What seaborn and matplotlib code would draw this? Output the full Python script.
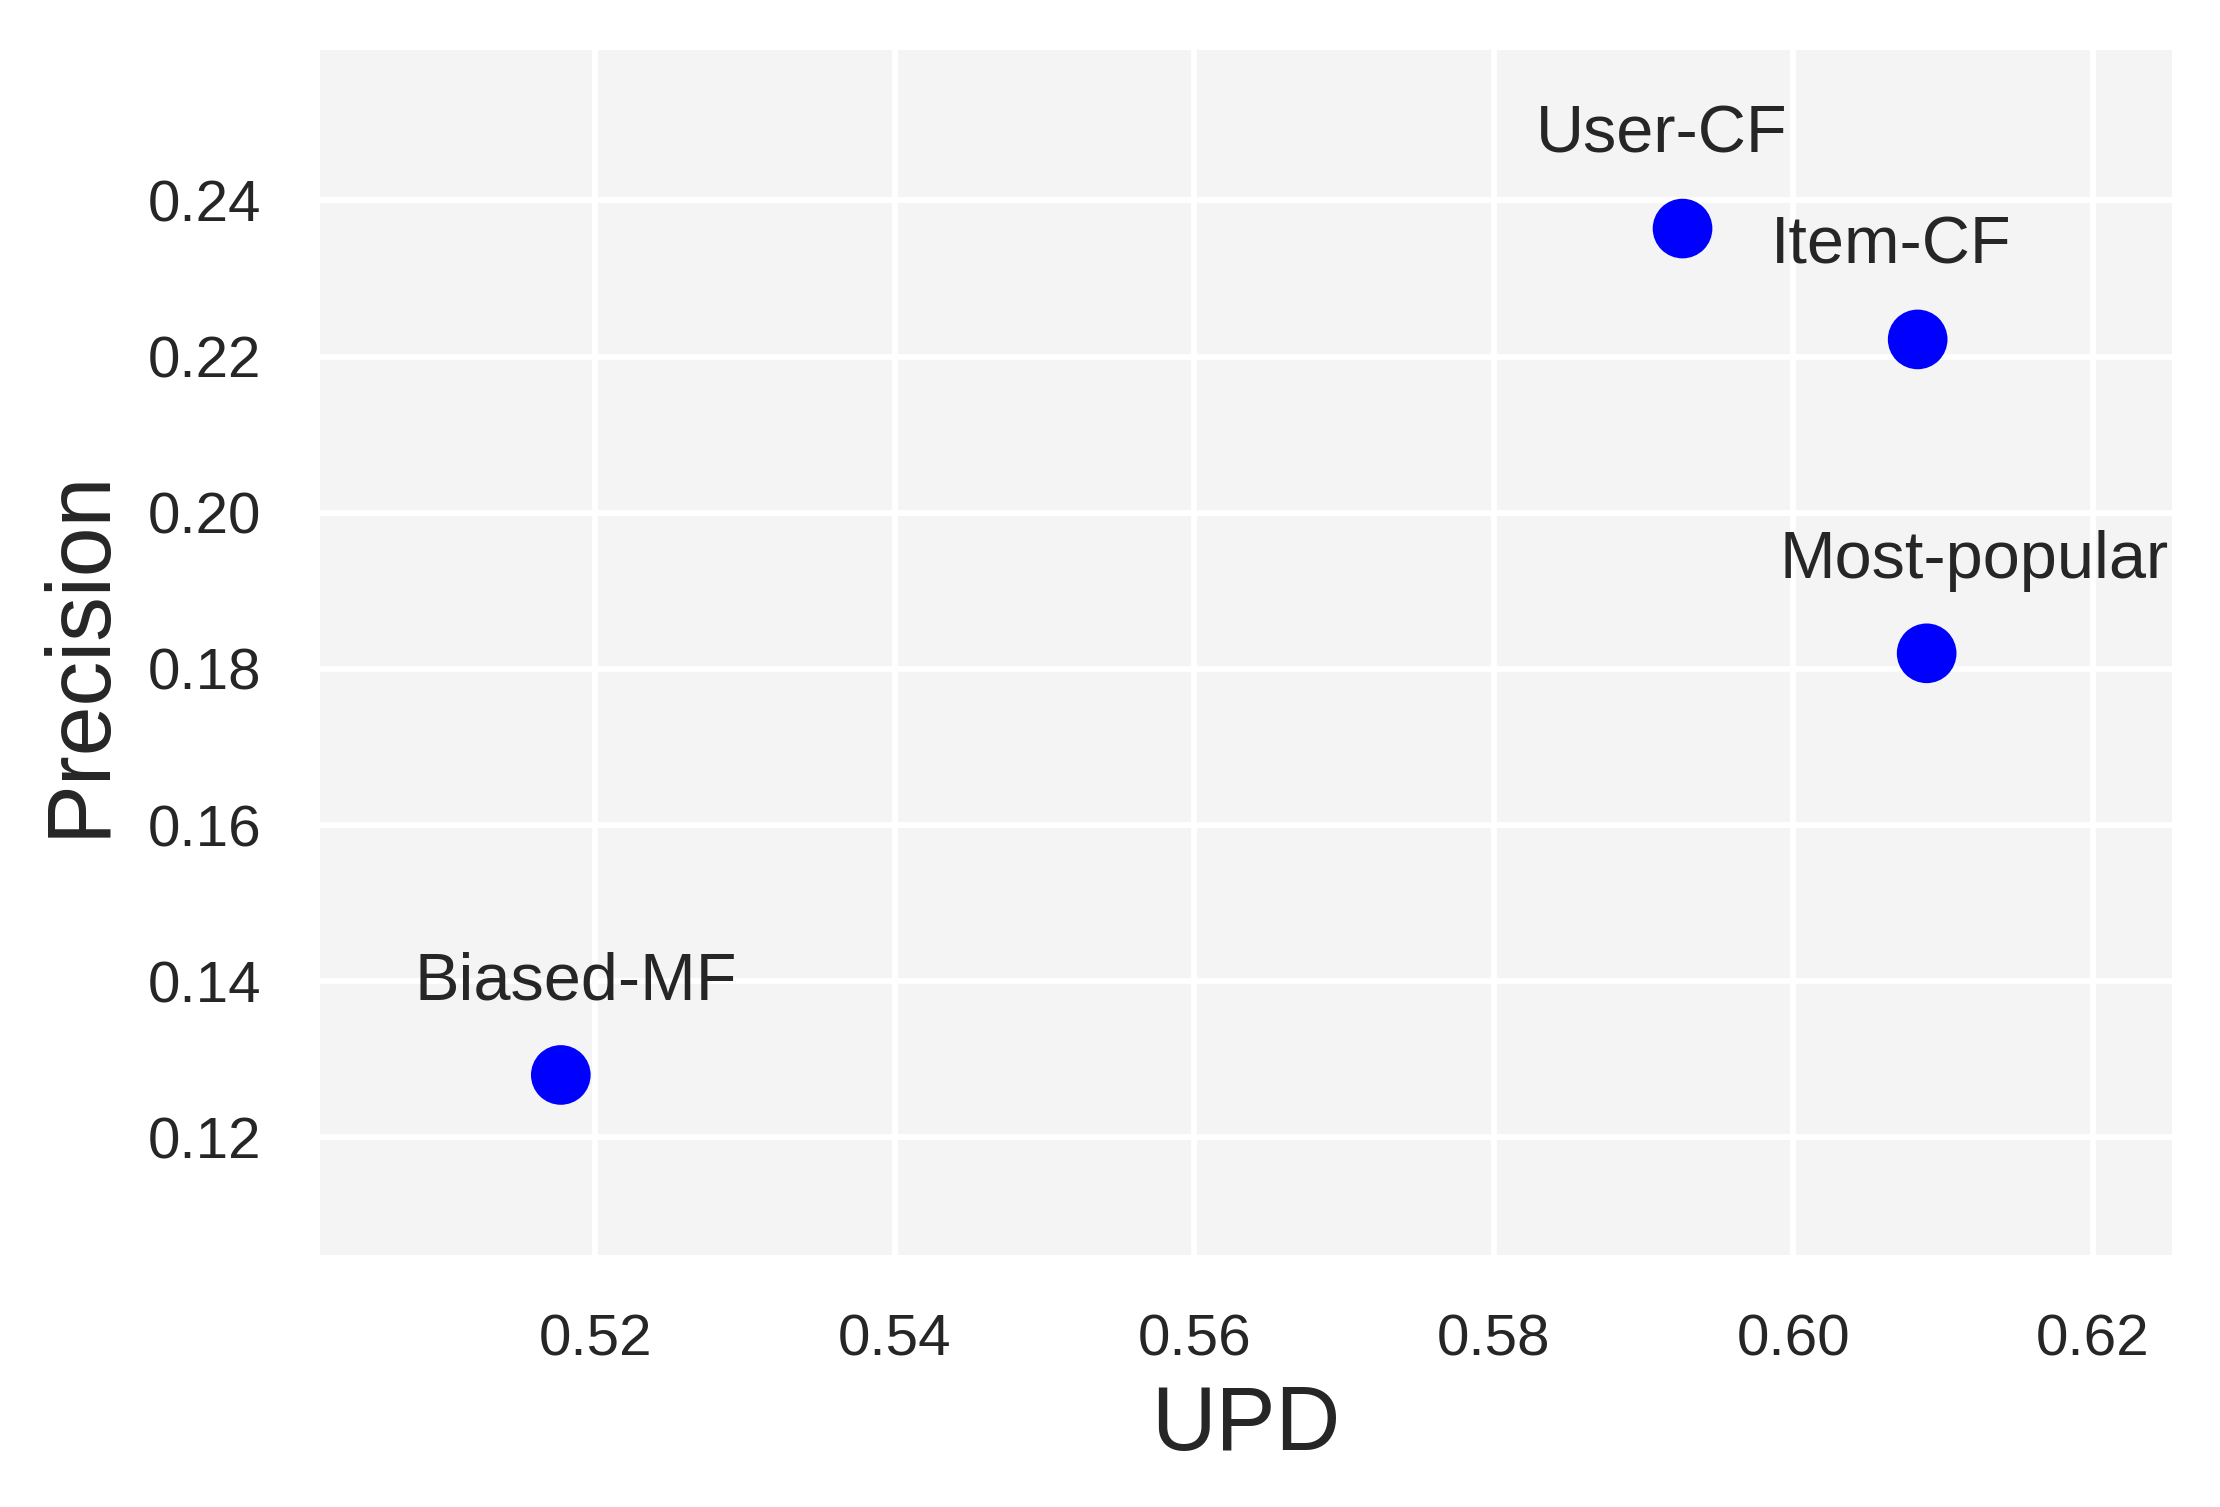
import matplotlib
matplotlib.use('Agg')
import matplotlib.pyplot as plt
import seaborn as sns
import pandas as pd

# values
methods = ['User-CF', 'Item-CF', 'Most-popular', 'Biased-MF']
upd = [0.5926, 0.6083, 0.6089, 0.5177]
precision = [0.2364, 0.2222, 0.1820, 0.1280]

x_ticks = [0.52, 0.54, 0.56, 0.58, 0.60, 0.62]
y_ticks = [0.12, 0.14, 0.16, 0.18, 0.20, 0.22, 0.24]

sns.set_theme(style='darkgrid', rc={
    'axes.facecolor': '#f4f4f4',
    'grid.color': 'white',
    'grid.linewidth': 1.4,
})
plt.rcParams['font.family'] = ['Liberation Sans', 'DejaVu Sans']

df = pd.DataFrame({'method': methods, 'UPD': upd, 'Precision': precision})

fig = plt.figure(figsize=(7.4, 7.4 * 1507 / 2220), dpi=300)
ax = fig.add_axes([0.144, 0.167, 0.8345, 0.800])

sns.scatterplot(data=df, x='UPD', y='Precision', ax=ax, color='#0000ff',
                s=205, edgecolor='none', linewidth=0, zorder=3)

# labels sit up and to the left of each point
for _, row in df.iterrows():
    ax.text(row['UPD'] - 0.0098, row['Precision'] + 0.0097, row['method'],
            fontsize=16, color='#262626', ha='left', va='baseline')

ax.set_xlim(0.5016, 0.6253)
ax.set_ylim(0.1049, 0.2593)
ax.set_xticks(x_ticks)
ax.set_yticks(y_ticks)
ax.set_xticklabels([f'{v:.2f}' for v in x_ticks])
ax.set_yticklabels([f'{v:.2f}' for v in y_ticks])
ax.tick_params(labelsize=14, colors='#262626', pad=8)
ax.set_xlabel('UPD', fontsize=21.5, color='#262626', labelpad=4)
ax.set_ylabel('Precision', fontsize=21.5, color='#262626', labelpad=6)
for s in ax.spines.values():
    s.set_visible(False)

fig.savefig('out.png', dpi=300)
